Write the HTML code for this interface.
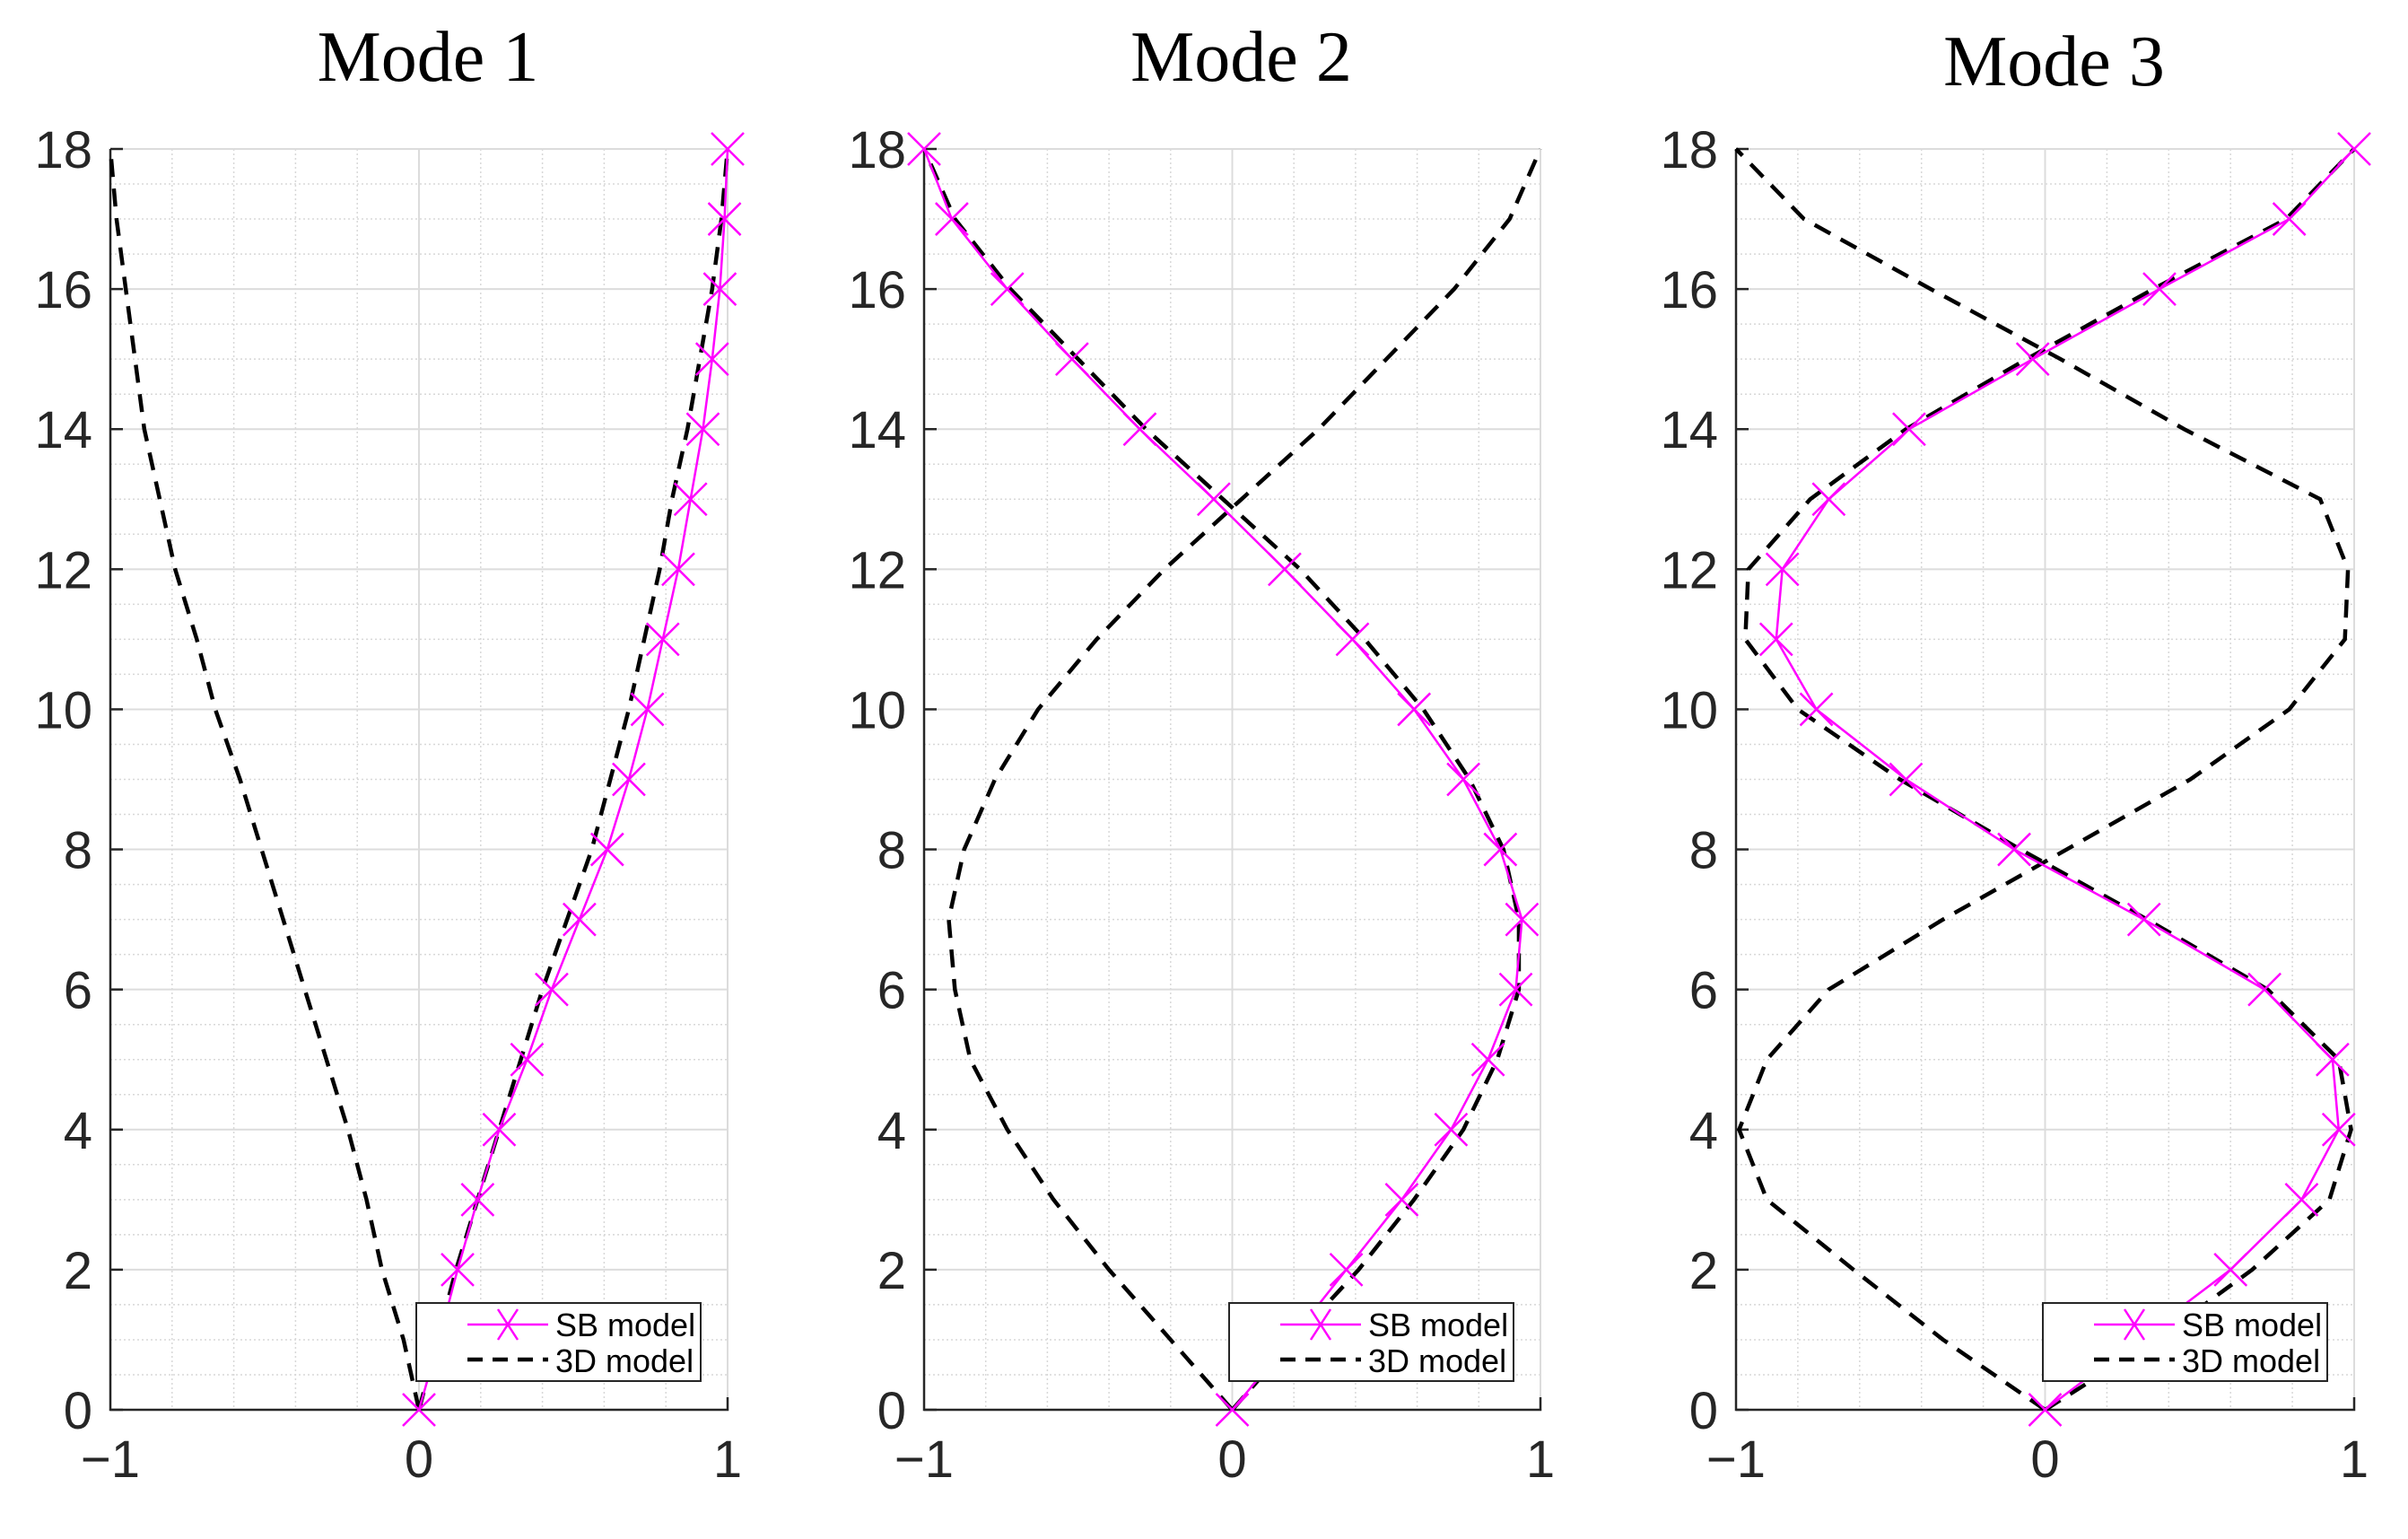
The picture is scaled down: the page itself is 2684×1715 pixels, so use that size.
<!DOCTYPE html>
<html><head><meta charset="utf-8"><style>
html,body{margin:0;padding:0;background:#fff;}
svg{display:block;}
</style></head><body>
<svg id="chart" width="2684" height="1715" viewBox="0 0 2684 1715" xmlns="http://www.w3.org/2000/svg"></svg>
<script>
const heights = [0,1,2,3,4,5,6,7,8,9,10,11,12,13,14,15,16,17,18];
const titles = ["Mode 1","Mode 2","Mode 3"];
const xTicks = [-1,0,1];
const yTicks = [0,2,4,6,8,10,12,14,16,18];
const sb1 = [0,0.065,0.125,0.19,0.26,0.35,0.43,0.52,0.61,0.68,0.74,0.79,0.84,0.88,0.92,0.95,0.975,0.99,1];
const d1a = [0,0.06,0.12,0.19,0.26,0.33,0.40,0.48,0.56,0.62,0.68,0.73,0.78,0.82,0.87,0.91,0.95,0.98,1];
const d1b = [0,-0.05,-0.12,-0.17,-0.23,-0.30,-0.37,-0.44,-0.51,-0.58,-0.66,-0.72,-0.79,-0.84,-0.89,-0.92,-0.95,-0.98,-1];
const sb2 = [0,0.19,0.37,0.55,0.71,0.83,0.92,0.94,0.87,0.75,0.59,0.39,0.17,-0.06,-0.30,-0.52,-0.73,-0.91,-1];
const d2a = [0,0.2,0.41,0.59,0.75,0.86,0.93,0.93,0.88,0.77,0.62,0.43,0.22,-0.03,-0.28,-0.50,-0.72,-0.90,-1];
const d2b = [0,-0.2,-0.40,-0.58,-0.73,-0.85,-0.90,-0.92,-0.87,-0.77,-0.63,-0.44,-0.22,0.03,0.28,0.50,0.72,0.90,1];
const sb3 = [0,0.30,0.60,0.83,0.95,0.93,0.71,0.32,-0.10,-0.45,-0.74,-0.87,-0.85,-0.70,-0.44,-0.04,0.37,0.79,1];
const d3a = [0,0.36,0.67,0.92,0.99,0.95,0.72,0.33,-0.08,-0.47,-0.80,-0.97,-0.96,-0.76,-0.45,-0.06,0.35,0.78,1];
const d3b = [0,-0.33,-0.62,-0.90,-0.99,-0.90,-0.70,-0.33,0.07,0.47,0.79,0.97,0.98,0.89,0.45,0.05,-0.37,-0.78,-1];
const sbSeries = [sb1,sb2,sb3];
const d3Series = [[d1a,d1b],[d2a,d2b],[d3a,d3b]];

{
const NS="http://www.w3.org/2000/svg";
const svg=document.getElementById('chart');
function mk(tag,attrs,parent){const e=document.createElementNS(NS,tag);for(const k in attrs)e.setAttribute(k,attrs[k]);(parent||svg).appendChild(e);return e;}
const panels=[{l:123,r:811},{l:1030,r:1717},{l:1935,r:2624}];
const plotTop=166,plotBot=1571;
panels.forEach((p,pi)=>{
  const g=mk('g',{});
  
  
  const X=v=>p.l+(v+1)/2*(p.r-p.l);
  const Y=v=>plotBot-v/18*(plotBot-plotTop);
  for(let k=-4;k<=4;k++){if(k===0)continue;const x=X(k*0.2);const gl=mk('line',{x1:x,x2:x,y1:plotTop,y2:plotBot,stroke:'#d8d8d8','stroke-width':1.5,'stroke-dasharray':'2,3'},g);
    
    }
  for(let k=1;k<36;k++){if(k%4===0)continue;const y=Y(k*0.5);const gl=mk('line',{x1:p.l,x2:p.r,y1:y,y2:y,stroke:'#d8d8d8','stroke-width':1.5,'stroke-dasharray':'2,3'},g);
    
    }
  xTicks.forEach(v=>{const x=X(v);const gl=mk('line',{x1:x,x2:x,y1:plotTop,y2:plotBot,stroke:'#dcdcdc','stroke-width':2},g);
    
    });
  yTicks.forEach(v=>{const y=Y(v);const gl=mk('line',{x1:p.l,x2:p.r,y1:y,y2:y,stroke:'#dcdcdc','stroke-width':2},g);
    
    });
  const ax=mk('path',{d:`M${p.l},${plotTop} L${p.l},${plotBot} L${p.r},${plotBot} L${p.r},${plotBot-14}`,fill:'none',stroke:'#262626','stroke-width':2.5},g);
  
  
  yTicks.forEach(v=>{const y=Y(v);
    const tk=mk('line',{x1:p.l,x2:p.l+14,y1:y,y2:y,stroke:'#262626','stroke-width':2.5},g);
    
    
    const t=mk('text',{x:p.l-20,y:y+21,'text-anchor':'end','font-family':'Liberation Sans, sans-serif','font-size':58,fill:'#262626'},g);t.textContent=v;
    
    });
  xTicks.forEach(v=>{const x=X(v);
    const t=mk('text',{x:x,y:1646,'text-anchor':'middle','font-family':'Liberation Sans, sans-serif','font-size':58,fill:'#262626'},g);t.textContent=v<0?'\u2212'+(-v):String(v);
    
    });
  const tt=mk('text',{x:(p.l+p.r)/2+10,y:pi==2?95:90,'text-anchor':'middle','font-family':'Liberation Serif, serif','font-size':80,fill:'#000'},g);
  tt.textContent=titles[pi];
  
  
  d3Series[pi].forEach(arr=>{
    const d=arr.map((v,i)=>(i?'L':'M')+X(v)+','+Y(heights[i])).join(' ');
    const pl=mk('path',{d:d,fill:'none',stroke:'#000','stroke-width':4.5,'stroke-dasharray':'20,13'},g);
    
    
  });
  const sb=sbSeries[pi];
  const d=sb.map((v,i)=>(i?'L':'M')+X(v)+','+Y(heights[i])).join(' ');
  const pl=mk('path',{d:d,fill:'none',stroke:'#ff00ff','stroke-width':2.5},g);
  
  
  sb.forEach((v,i)=>{const x=X(v),y=Y(heights[i]),s=18;
    const m=mk('path',{d:`M${x-s},${y-s} L${x+s},${y+s} M${x-s},${y+s} L${x+s},${y-s}`,stroke:'#ff00ff','stroke-width':2.5},g);
    
    });
  const lx=p.r-347,ly=1452,lw=317,lh=87;
  const lg=mk('g',{},g);
  
  
  mk('rect',{x:lx,y:ly,width:lw,height:lh,fill:'#fff',stroke:'#262626','stroke-width':2},lg);
  mk('line',{x1:lx+57,x2:lx+147,y1:ly+24,y2:ly+24,stroke:'#ff00ff','stroke-width':2.5},lg);
  mk('path',{d:`M${lx+91},${ly+7} L${lx+113},${ly+41} M${lx+91},${ly+41} L${lx+113},${ly+7}`,stroke:'#ff00ff','stroke-width':2.5},lg);
  mk('line',{x1:lx+57,x2:lx+147,y1:ly+63,y2:ly+63,stroke:'#000','stroke-width':4.5,'stroke-dasharray':'17,11'},lg);
  const t1=mk('text',{x:lx+155,y:ly+37,'font-family':'Liberation Sans, sans-serif','font-size':36,fill:'#000'},lg);t1.textContent='SB model';
  
  
  const t2=mk('text',{x:lx+155,y:ly+77,'font-family':'Liberation Sans, sans-serif','font-size':36,fill:'#000'},lg);t2.textContent='3D model';
  
  
});
}
</script>
</body></html>
